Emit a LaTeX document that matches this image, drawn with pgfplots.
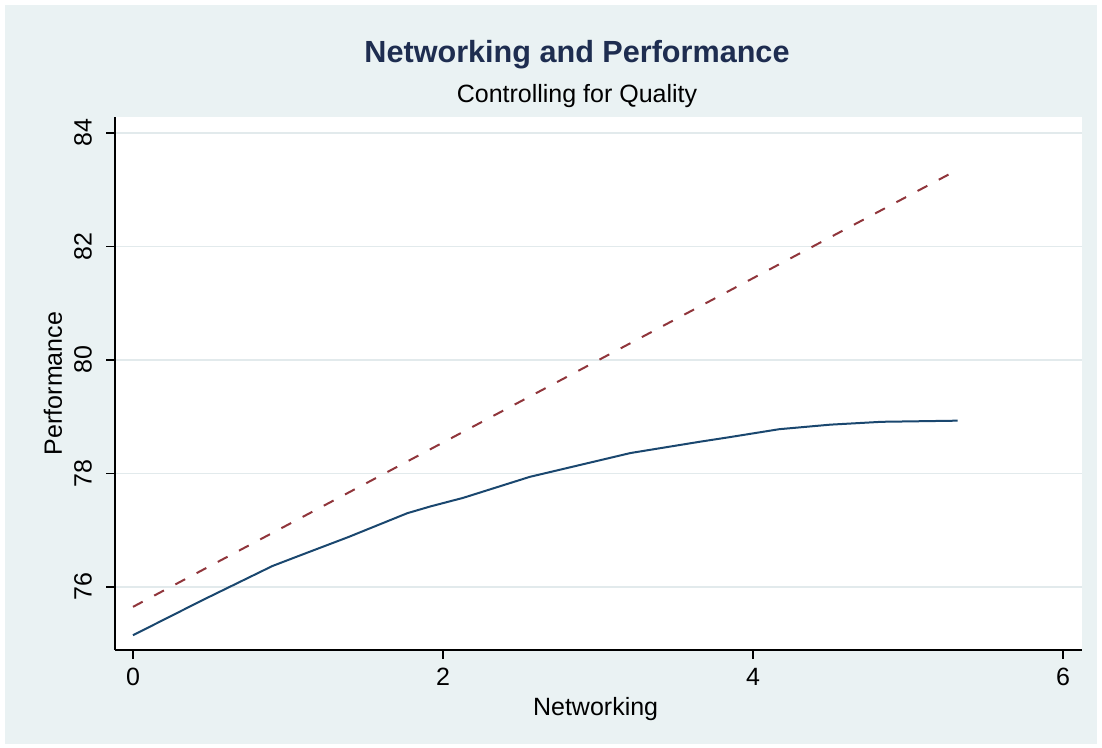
\documentclass[border=0pt]{standalone}
\usepackage{fontspec}
\setmainfont{Liberation Sans}
\usepackage{pgfplots}
\pgfplotsset{compat=1.18}
\definecolor{bgcol}{RGB}{234,242,243}
\definecolor{gridcol}{RGB}{226,234,236}
\definecolor{stnavy}{RGB}{26,71,111}
\definecolor{stmaroon}{RGB}{144,53,59}
\definecolor{titlecol}{RGB}{30,45,80}
\begin{document}
\begin{tikzpicture}
\path[use as bounding box] (0,0) rectangle (551pt,374pt);
\fill[bgcol] (2.5pt,2pt) rectangle (548.5pt,371.5pt);
\node[anchor=base, text=titlecol, font=\fontsize{15.3}{18}\selectfont\bfseries] at (288.5pt,342.5pt) {Networking and Performance};
\node[anchor=base, font=\fontsize{12.5}{15}\selectfont] at (288.5pt,322.5pt) {Controlling for Quality};
\begin{axis}[
  at={(57.5pt,49pt)}, anchor=south west,
  scale only axis, width=483.5pt, height=266.5pt,
  xmin=-0.116, xmax=6.123, ymin=74.89, ymax=84.28,
  axis x line*=bottom, axis y line*=left,
  axis line style={line width=1pt, black, -},
  axis background/.style={fill=white},
  xtick={0,2,4,6}, ytick={76,78,80,82,84},
  tick align=outside, major tick length=4.5pt,
  tick style={line width=0.8pt, black},
  ymajorgrids, grid style={gridcol, line width=0.8pt},
  /pgf/number format/assume math mode=true,
  tick label style={font=\fontsize{12.5}{15}\selectfont},
  yticklabel style={rotate=90, anchor=south},
  yticklabel shift=3.5pt,
  xticklabel shift=1pt,
  label style={font=\fontsize{12.5}{15}\selectfont},
  xlabel={Networking},
  ylabel={Performance},
  xlabel style={at={(axis description cs:0.497,-0.122)}, anchor=base},
  ylabel style={at={(axis description cs:-0.0641,0.5)}, anchor=center},
]
\addplot[stmaroon, line width=1pt, dash pattern=on 5.5pt off 6.5pt] coordinates {(0,75.65) (5.32,83.35)};
\addplot[stnavy, line width=1pt] coordinates {
(0,75.15) (0.45,75.77) (0.90,76.37) (1.12,76.60) (1.39,76.88) (1.77,77.30)
(1.92,77.42) (2.13,77.57) (2.56,77.94) (3.21,78.36) (3.66,78.56) (3.85,78.64)
(4.17,78.78) (4.5,78.86) (4.83,78.91) (5.32,78.93)};
\end{axis}
\end{tikzpicture}
\end{document}
